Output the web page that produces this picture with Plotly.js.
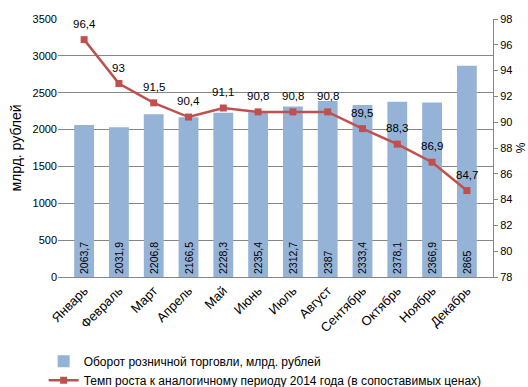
<!DOCTYPE html>
<html><head><meta charset="utf-8">
<script src="https://cdn.plot.ly/plotly-3.0.1.min.js"></script>
<style>html,body{margin:0;padding:0;background:#fff}#c{width:528px;height:387px}</style>
</head><body><div id="c"></div>
<script>
const months = ["Январь","Февраль","Март","Апрель","Май","Июнь","Июль","Август","Сентябрь","Октябрь","Ноябрь","Декабрь"];
const turnover = [2063.7,2031.9,2206.8,2166.5,2228.3,2235.4,2312.7,2387,2333.4,2378.1,2366.9,2865];
const growth = [96.4,93,91.5,90.4,91.1,90.8,90.8,90.8,89.5,88.3,86.9,84.7];
const fmt = v => String(v).replace('.', ',');
const font = "Liberation Sans, Arial, sans-serif";
const traces = [
 {type:'bar', x:months, y:turnover, name:'Оборот розничной торговли, млрд. рублей',
  marker:{color:'#95B3D7'}, width:0.57,
  text:turnover.map(fmt), textposition:'inside', insidetextanchor:'start', textangle:-90,
  constraintext:'none', textfont:{size:10.5,color:'#000',family:font}, hoverinfo:'none'},
 {type:'scatter', mode:'lines+markers', x:months, y:growth, yaxis:'y2',
  name:'Темп роста к аналогичному периоду 2014 года (в сопоставимых ценах)',
  line:{color:'#C0504D',width:2.5}, marker:{symbol:'square',size:7,color:'#C0504D'},
  cliponaxis:false, hoverinfo:'none'}
];
const annotations = months.map((m,i)=>({x:m, y:growth[i], xref:'x', yref:'y2',
  text:fmt(growth[i]), showarrow:false, yshift:16, font:{size:11.5,color:'#000',family:font}}));
const layout = {
 width:528, height:387, margin:{l:58,r:35,t:19,b:110,autoexpand:false},
 paper_bgcolor:'#fff', plot_bgcolor:'#fff',
 font:{family:font,size:11,color:'#000'},
 showlegend:true, annotations:annotations,
 legend:{orientation:'v', x:-0.033, xanchor:'left', y:-0.27, yanchor:'top',
   traceorder:'normal', font:{size:12,family:font}},
 bargap:0.43,
 xaxis:{tickangle:-45, showline:true, linecolor:'#868686', ticks:'', tickfont:{size:13},
   showgrid:false, zeroline:false, automargin:false},
 yaxis:{range:[0,3500], dtick:500, showgrid:true, gridcolor:'#868686', gridwidth:1,
   showline:false, ticks:'', zeroline:false, tickfont:{size:11}, automargin:false,
   title:{text:'млрд. рублей', font:{size:14}, standoff:7}},
 yaxis2:{overlaying:'y', side:'right', range:[78,98], dtick:2, showgrid:false,
   showline:true, linecolor:'#868686', ticks:'outside', ticklen:4, tickcolor:'#868686',
   zeroline:false, tickfont:{size:11}, automargin:false,
   title:{text:'%', font:{size:12}, standoff:6}}
};
Plotly.newPlot('c', traces, layout, {staticPlot:true});
</script></body></html>
